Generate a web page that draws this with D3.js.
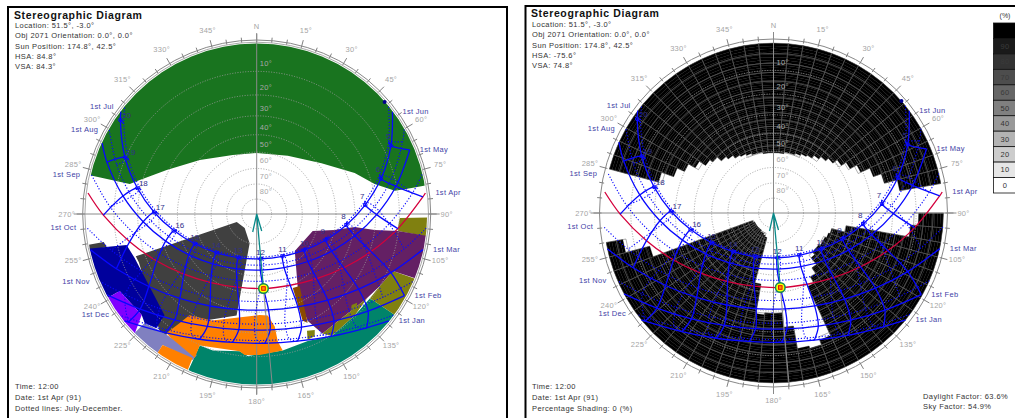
<!DOCTYPE html>
<html>
<head>
<meta charset="utf-8">
<title>Stereographic Diagram</title>
<script src="https://cdn.jsdelivr.net/npm/d3@7"></script>
<style>
body { margin: 0; background: #fff; }
text { font-family: "Liberation Sans", Arial, sans-serif; }
</style>
</head>
<body>
<div id="chart"></div>
<script>
// sun position on the 1st of each month: [clock hour, azimuth, altitude]
// hour null = where the path meets the horizon
var janPath = [[null,129,0],[9,136,4.1],[10,148.7,9.8],[11,162.2,13.7],[12,176.4,15.4],[13,190.7,14.9],[14,204.5,12],[15,217.7,7.2],[16,229.9,0.7],[null,231,0]];
var febPath = [[8,118.9,0.4],[9,131.1,8],[10,144.2,14.3],[11,158.4,18.8],[12,173.4,21.1],[13,188.8,20.9],[14,203.7,18.3],[15,217.8,13.5],[16,230.8,7],[null,241.6,0]];
var marPath = [[null,102.1,0],[8,113.6,8.5],[9,126.4,16.6],[10,140.5,23.4],[11,156.1,28.3],[12,173,30.8],[13,190.3,30.5],[14,206.9,27.5],[15,222.3,22.2],[16,236.1,15.2],[17,248.7,6.9],[null,257.9,0]];
var aprPath = [[null,82.9,0],[6,84.1,1],[7,95.9,10.3],[8,108.2,19.4],[9,121.7,27.9],[10,137.1,35.1],[11,154.8,40.3],[12,174.8,42.5],[13,194.8,42],[14,213.8,38.2],[15,230.4,31.9],[16,244.8,24],[17,257.7,15.2],[18,269.6,5.9],[null,277.1,0]];
var mayPath = [[5,67.3,1.4],[6,78.8,10.3],[7,90.3,19.6],[8,102.5,28.8],[9,116.3,37.6],[10,132.8,45.3],[11,152.9,51],[12,176.3,53.4],[13,200.2,52.1],[14,221.5,47.3],[15,238.9,40.1],[16,253.4,31.6],[17,266.1,22.4],[18,277.7,13.1],[19,289.1,4],[null,294.6,0]];
var junPath = [[null,53,0],[5,63,6.9],[6,74.1,15.5],[7,85.2,24.7],[8,97,34],[9,110.6,43.1],[10,127.2,51.3],[11,148.7,57.5],[12,175.3,60.4],[13,202.9,58.9],[14,226.2,53.6],[15,244.3,46],[16,258.7,37.1],[17,271,27.8],[18,282.3,18.6],[19,293.3,9.7],[20,304.6,1.5],[null,307,0]];
var julPath = [[null,50.9,0],[5,61.3,7],[6,72.3,15.6],[7,83.3,24.7],[8,95,34],[9,108.3,43.1],[10,124.6,51.5],[11,145.7,58.1],[12,172.5,61.4],[13,201,60.3],[14,225.2,55.2],[15,243.7,47.6],[16,258.4,38.8],[17,270.7,29.5],[18,282,20.2],[19,293,11.4],[20,304.2,3.2],[null,309.1,0]];
var augPath = [[null,60.2,0],[5,63.7,2.5],[6,75.1,11.2],[7,86.4,20.4],[8,98.4,29.7],[9,111.8,38.7],[10,127.9,46.8],[11,147.9,53.1],[12,172.1,56.3],[13,197.6,55.5],[14,220.4,51],[15,238.7,43.8],[16,253.6,35.3],[17,266.3,26.1],[18,278,16.8],[19,289.3,7.8],[null,299.8,0]];
var sepPath = [[null,76.6,0],[6,82.5,4.6],[7,94.2,14],[8,106.5,23.1],[9,120.2,31.7],[10,136.1,39],[11,154.7,44.3],[12,175.7,46.7],[13,197.1,45.7],[14,216.8,41.4],[15,233.7,34.8],[16,248.2,26.6],[17,261,17.7],[18,272.9,8.3],[null,283.4,0]];
var octPath = [[null,94.8,0],[7,103.3,6.6],[8,115.7,15.4],[9,129.2,23.3],[10,144.3,29.7],[11,161.2,33.9],[12,179.4,35.5],[13,197.6,34.1],[14,214.6,30],[15,229.9,23.7],[16,243.5,15.9],[17,256,7.2],[null,265.2,0]];
var novPath = [[null,113.5,0],[8,123.4,6.7],[9,136.2,13.9],[10,150.2,19.5],[11,165.4,23],[12,181.2,24.1],[13,196.9,22.6],[14,211.9,18.8],[15,225.7,12.9],[16,238.4,5.6],[null,246.5,0]];
var decPath = [[null,126.6,0],[9,138.4,6.7],[10,151.4,12],[11,165.3,15.5],[12,179.8,16.7],[13,194.2,15.6],[14,208.1,12.2],[15,221.2,6.9],[null,233.4,0]];

var monthNames = ["Jan","Feb","Mar","Apr","May","Jun","Jul","Aug","Sep","Oct","Nov","Dec"];
var sunPaths = [janPath,febPath,marPath,aprPath,mayPath,junPath,julPath,augPath,sepPath,octPath,novPath,decPath];
var hours = [5,6,7,8,9,10,11,12,13,14,15,16,17,18,19,20];

var sunPos = [174.8, 42.5];
var earlyNode = [48.8, 0];

// shading outlines [azimuth, altitude]; negative altitudes get cut off by the sky circle
var greenMask = [[80.2,-10],[80.5,4.5],[80.5,11],[75.7,18.8],[67.3,26],[51.9,38.3],[28.1,47.6],[0,50.5],[337.9,49],[313.5,40.5],[296,29],[286.2,18.8],[283.3,15],[283.1,0],[283,-10],[315,-10],[345,-10],[15,-10],[45,-10]];
var grayMask = [[250.7,16],[248.2,75.6],[220.6,77.6],[193.6,70],[191.2,27.3],[211.8,16],[217.2,6.2],[219.9,6.5],[247.7,16.3]];
var graySliver = [[259.6,-5],[259.6,5.1],[257.6,5.8],[257.6,-5]];
var navyMask = [[258.3,-5],[258.3,0],[256.6,13.6],[250.2,15.3],[222.3,12.3],[221.3,6.4],[225.8,4.8],[228.7,6],[240.7,4.5],[240.6,-5]];
var violetMask = [[240.6,-5],[240.7,4.5],[228.7,6],[225.7,0],[225.7,-5]];
var periwinkleMask = [[225.7,-5],[225.8,4.8],[219.9,6.5],[215.5,7],[203,6],[203.7,3.7],[215.7,3],[215.3,-5]];
var orangeMask = [[213.6,18.8],[202.7,21.7],[178.3,28.5],[173.8,28],[170.9,22.3],[170.6,15.6],[169.2,11.5],[178.8,10.6],[184.9,10.4],[187.1,11.7],[203.4,9.7],[203.3,4.7],[215.5,7],[217.1,7.4],[215.2,13.7]];
var orangeCorner = [[215.7,3],[204,4.3],[203.7,-5],[215.3,-5]];
var tealMask = [[203.7,-5],[203.4,9.7],[197.8,9.7],[187.1,11.7],[183.6,10.1],[169.2,11.5],[158.1,12.3],[148.4,9.8],[135.9,10.6],[126.6,10.6],[126,-5],[150,-5],[180,-5]];
var oliveTop = [[91.6,9.8],[91,-5],[97.5,-5],[97.5,0],[96.9,10.2],[94.5,10.2]];
var oliveSide = [[112.7,8.1],[112,-5],[126,-5],[126.6,10.6],[120.3,10]];
var oliveStrip = [[151.2,12.5],[127.1,11.5],[135.9,10.6],[148.4,9.8]];
var oliveFoot = [[156.7,16.4],[153.4,15.3],[154.6,13],[158,12.8]];
var oliveTab = [[133.8,14.5],[131.5,13.5],[133.2,12.3],[136,13]];
var purpleMask = [[134.2,55.3],[106.9,52],[101.6,40],[97.6,29.7],[97.7,20],[96.9,10.2],[97.5,-5],[102.6,-5],[111.7,-5],[112.7,8.1],[120.3,10],[127.4,11.6],[151.2,12.5],[154.5,20.2],[154,26.9],[151,37]];
var brownMask = [[154,38.3],[149.2,37.5],[154.9,19.5],[156.7,21.3]];

var shadeLayers = [
    [greenMask, "#19741f"], [tealMask, "#00846a"], [grayMask, "#404040"], [graySliver, "#404040"],
    [navyMask, "#00009c"], [violetMask, "#8000ff"], [periwinkleMask, "#8080c0"],
    [orangeMask, "#ff8000"], [orangeCorner, "#ff8000"],
    [oliveTop, "#808010"], [oliveSide, "#808010"], [oliveStrip, "#808010"], [oliveFoot, "#808010"],
    [purpleMask, "#642064"], [brownMask, "#8a4a00"], [oliveTab, "#808010"]
];

// what the right panel sees as obstructed
var southObstructed = [[259.9,-10],[259.7,5],[257.7,5.3],[256.3,11.2],[256.6,15.6],[249.7,15.3],[248.7,75.3],[194.6,72.8],[192.3,35.3],[190.3,27.4],[173.4,28.7],[172.6,22.4],[170.3,11.4],[158.4,11],[155.9,16.6],[154,37.2],[143,45.8],[136,53.8],[107.1,50.4],[98.1,33],[97.7,12.9],[96,9.3],[90.4,9.4],[90,-10],[120,-10],[150,-10],[180,-10],[210,-10],[240,-10]];
var skyObstructed = [greenMask, southObstructed];

var legendValues = [100,90,80,70,60,50,40,30,20,10,0];
var legendColors = ["#000000","#1a1a1a","#333333","#4d4d4d","#666666","#808080","#999999","#b3b3b3","#cccccc","#e6e6e6","#ffffff"];
var ringAlts = [10,20,30,40,50,60,70,80];
var compassLabels = [0,15,30,45,60,75,90,105,120,135,150,165,180,195,210,225,240,255,270,285,300,315,330,345];
var leftNotes = ["Location: 51.5°, -3.0°","Obj 2071 Orientation: 0.0°, 0.0°","Sun Position: 174.8°, 42.5°","HSA: 84.8°","VSA: 84.3°"];
var rightNotes = ["Location: 51.5°, -3.0°","Obj 2071 Orientation: 0.0°, 0.0°","Sun Position: 174.8°, 42.5°","HSA: -75.6°","VSA: 74.8°"];
var leftFoot = ["Time: 12:00","Date: 1st Apr (91)","Dotted lines: July-December."];
var rightFoot = ["Time: 12:00","Date: 1st Apr (91)","Percentage Shading: 0 (%)"];
var factors = ["Daylight Factor: 63.6%","Sky Factor: 54.9%"];

var skyRadius = 170;
var ringRadius = 174;

var proj = d3.geoStereographic().rotate([0,-90]).scale(skyRadius).translate([0,0]);
function pt(d) { return proj([180 - d[0], d[1]]); }
function rad(az) { return az * Math.PI / 180; }
function polar(az, r) { return [r * Math.sin(rad(az)), -r * Math.cos(rad(az))]; }

var svg = d3.select("#chart").append("svg")
    .attr("width", 1015)
    .attr("height", 418);

svg.append("defs").append("clipPath").attr("id", "sky")
    .append("circle").attr("r", skyRadius + 0.5);

var curved = d3.line().curve(d3.curveCatmullRom.alpha(0.5));
var straight = d3.line();

function azAlt(row) { return [row[1], row[2]]; }

function drawShades(g) {
    var layer = g.append("g").attr("clip-path", "url(#sky)");
    shadeLayers.forEach(function (s) {
        layer.append("path")
            .attr("d", straight(s[0].map(pt)) + "Z")
            .attr("fill", s[1]);
    });
}

function sector(az, alt, dAz, dAlt) {
    return straight([[az,alt],[az+dAz,alt],[az+dAz,alt+dAlt],[az,alt+dAlt]].map(pt)) + "Z";
}

function drawCells(g) {
    var layer = g.append("g").attr("clip-path", "url(#sky)");
    var masks = skyObstructed.map(function (m) { return m.map(pt); });
    function hit(az, alt) {
        var p = pt([az, alt]);
        return masks.some(function (m) { return d3.polygonContains(m, p); });
    }

    // fill decided on thin rows so the edge steps stay small
    var fine = [];
    d3.range(0, 360, 5).forEach(function (az) {
        d3.range(0, 90, 1).forEach(function (alt) {
            if (hit(az + 2.5, alt + 0.5)) fine.push([az, alt]);
        });
    });
    layer.append("g").selectAll("path").data(fine).join("path")
        .attr("d", function (d) { return sector(d[0], d[1], 5, 1); })
        .attr("fill", "#000")
        .attr("stroke", "#000")
        .attr("stroke-width", 0.3);

    var coarse = [];
    d3.range(0, 360, 5).forEach(function (az) {
        d3.range(0, 90, 3.6).forEach(function (alt) {
            if (hit(az + 2.5, alt + 1.8)) coarse.push([az, alt]);
        });
    });
    layer.append("g").selectAll("path").data(coarse).join("path")
        .attr("d", function (d) { return sector(d[0], d[1], 5, 3.6); })
        .attr("fill", "none")
        .attr("stroke", "#606060")
        .attr("stroke-width", 0.5);
}

function drawCompass(g, doubleRing) {
    ringAlts.forEach(function (alt) {
        var p = pt([0, alt]);
        g.append("circle")
            .attr("r", Math.abs(p[1]))
            .attr("fill", "none")
            .attr("stroke", "#9a9a9a")
            .attr("stroke-width", 0.9)
            .attr("stroke-dasharray", "1 1.6");
        g.append("text")
            .attr("x", 3)
            .attr("y", p[1] - 5)
            .attr("font-size", 7.5)
            .attr("letter-spacing", 0.3)
            .attr("fill", "#a8a8a8")
            .text(alt + "°");
    });

    g.append("circle").attr("r", ringRadius).attr("fill", "none").attr("stroke", "#888").attr("stroke-width", 1);
    if (doubleRing) {
        g.append("circle").attr("r", ringRadius - 2.2).attr("fill", "none").attr("stroke", "#aaa").attr("stroke-width", 1);
    }

    d3.range(0, 360, 5).forEach(function (az) {
        var major = az % 15 === 0;
        var a = polar(az, ringRadius - 2);
        var b = polar(az, ringRadius + (major ? 6 : 3));
        g.append("line")
            .attr("x1", a[0]).attr("y1", a[1]).attr("x2", b[0]).attr("y2", b[1])
            .attr("stroke", "#808080").attr("stroke-width", 1);
    });

    g.append("line").attr("x1", 0).attr("y1", -181).attr("x2", 0).attr("y2", 181).attr("stroke", "#8a8a8a");
    g.append("line").attr("x1", -183).attr("y1", 0).attr("x2", 183).attr("y2", 0).attr("stroke", "#8a8a8a");

    compassLabels.forEach(function (az) {
        var p = polar(az, az === 0 ? 188 : 190);
        var lower = az >= 105 && az <= 255;
        g.append("text")
            .attr("x", p[0]).attr("y", p[1] + (lower ? 0 : 2.5))
            .attr("text-anchor", "middle")
            .attr("font-size", 7.5)
            .attr("letter-spacing", 0.3)
            .attr("fill", "#a5a5a5")
            .text(az === 0 ? "N" : az + "°");
    });
}

function drawSun(g) {
    // date lines
    sunPaths.forEach(function (path, i) {
        var solid = i < 6;
        g.append("path")
            .attr("d", curved(path.map(azAlt).map(pt)))
            .attr("fill", "none")
            .attr("stroke", i === 3 ? "#d4003c" : "#0808ff")
            .attr("stroke-width", solid ? 1.3 : 1.1)
            .attr("stroke-dasharray", solid ? null : "1.2 1.8");
    });

    // hour lines, solid Jan-Jun, dotted Jul-Dec
    hours.forEach(function (h) {
        function nodes(idx) {
            var out = [];
            idx.forEach(function (i) {
                var row = sunPaths[i].find(function (r) { return r[0] === h; });
                if (row) out.push(pt(azAlt(row)));
            });
            return out;
        }
        g.append("path")
            .attr("d", curved(nodes([0,1,2,3,4,5,6])))
            .attr("fill", "none").attr("stroke", "#0808ff").attr("stroke-width", 1.3);
        g.append("path")
            .attr("d", curved(nodes([6,7,8,9,10,11,0])))
            .attr("fill", "none").attr("stroke", "#0808ff").attr("stroke-width", 1.1)
            .attr("stroke-dasharray", "1.2 1.8");

        var top = junPath.find(function (r) { return r[0] === h; });
        var p = pt(azAlt(top));
        g.append("circle").attr("cx", p[0]).attr("cy", p[1]).attr("r", 1.8)
            .attr("fill", "none").attr("stroke", "#0808ff");
        var dx = h <= 9 ? -3 : (h >= 16 ? 6 : 0);
        var dy = h <= 9 ? -9 : (h >= 16 ? -5 : -7);
        g.append("text")
            .attr("x", p[0] + dx).attr("y", p[1] + dy + 2.8)
            .attr("text-anchor", "middle")
            .attr("font-size", 8)
            .attr("fill", "#30308c")
            .text(h);
    });

    var e = pt(earlyNode);
    g.append("circle").attr("cx", e[0]).attr("cy", e[1]).attr("r", 2).attr("fill", "#00008c");

    // month labels at the horizon ends of the paths
    sunPaths.forEach(function (path, i) {
        var east = i < 6;
        var end = east ? path[0] : path[path.length - 1];
        var p = pt(azAlt(end));
        g.append("text")
            .attr("x", p[0] + (east ? 10 : -11)).attr("y", p[1] + 2)
            .attr("text-anchor", east ? "start" : "end")
            .attr("font-size", 7.5)
            .attr("letter-spacing", 0.3)
            .attr("fill", "#3f3fa6")
            .text("1st " + monthNames[i]);
    });

    // azimuth line, arrow and sun marker
    var s = pt(sunPos);
    var far = polar(sunPos[0], ringRadius);
    g.append("line").attr("x1", s[0]).attr("y1", s[1]).attr("x2", far[0]).attr("y2", far[1]).attr("stroke", "#8a8a8a");
    g.append("path")
        .attr("d", "M" + s[0] + "," + s[1] + "L0,0M-4,18L0,0L5,17")
        .attr("fill", "none").attr("stroke", "#0a8a8a").attr("stroke-width", 1.3);
    g.append("circle").attr("cx", s[0]).attr("cy", s[1]).attr("r", 4.8)
        .attr("fill", "#ffff00").attr("stroke", "#0f8a50").attr("stroke-width", 1.5);
    g.append("rect").attr("x", s[0] - 1.8).attr("y", s[1] - 1.8).attr("width", 3.6).attr("height", 3.6)
        .attr("fill", "#ff9000").attr("stroke", "#e00000").attr("stroke-width", 0.9);
}

function notes(lines, ys, x) {
    lines.forEach(function (t, i) {
        svg.append("text").attr("x", x).attr("y", ys[i])
            .attr("font-size", 7.5)
            .attr("letter-spacing", 0.42)
            .attr("fill", "#333")
            .text(t);
    });
}

function panel(opts) {
    svg.append("rect")
        .attr("x", opts.fx).attr("y", opts.fy).attr("width", opts.fw).attr("height", 430)
        .attr("fill", "none").attr("stroke", "#000").attr("stroke-width", 2);
    svg.append("text").attr("x", opts.tx).attr("y", opts.ty)
        .attr("font-size", 10.5).attr("font-weight", "bold").attr("letter-spacing", 0.62)
        .attr("fill", "#111").text("Stereographic Diagram");
    notes(opts.head, [28 + opts.dy, 38 + opts.dy, 49 + opts.dy, 59 + opts.dy, 69 + opts.dy], opts.tx + 1);
    notes(opts.foot, [389, 400, 411], opts.tx + 1);

    var g = svg.append("g").attr("transform", "translate(" + opts.cx + "," + opts.cy + ")");
    opts.fill(g);
    drawCompass(g, opts.doubleRing);
    drawSun(g);
}

panel({ fx: 8, fy: 7, fw: 499, tx: 14, ty: 18.5, dy: 0, cx: 256.7, cy: 214,
    head: leftNotes, foot: leftFoot, fill: drawShades, doubleRing: true });
panel({ fx: 525.5, fy: 6, fw: 600, tx: 531, ty: 17, dy: -1, cx: 773.5, cy: 213,
    head: rightNotes, foot: rightFoot, fill: drawCells, doubleRing: false });

notes(factors, [399, 409], 923);

// legend
var legendY = d3.scaleBand().domain(legendValues).range([23, 193]);
svg.selectAll("rect.legend").data(legendValues).join("rect")
    .attr("class", "legend")
    .attr("x", 993.5)
    .attr("y", function (d) { return legendY(d); })
    .attr("width", 40)
    .attr("height", legendY.bandwidth())
    .attr("fill", function (d, i) { return legendColors[i]; })
    .attr("stroke", "#111")
    .attr("stroke-width", 0.8);
svg.selectAll("text.legend").data(legendValues.slice(1)).join("text")
    .attr("class", "legend")
    .attr("x", 1005)
    .attr("y", function (d) { return legendY(d) + legendY.bandwidth() / 2 + 2.6; })
    .attr("text-anchor", "middle")
    .attr("font-size", 7.5)
    .attr("letter-spacing", 0.3)
    .attr("fill", function (d) { return d >= 60 ? "#3a3a3a" : "#333"; })
    .text(function (d) { return d; });
svg.append("text").attr("x", 1005).attr("y", 18)
    .attr("text-anchor", "middle").attr("font-size", 7).attr("fill", "#333").text("(%)");
</script>
</body>
</html>
